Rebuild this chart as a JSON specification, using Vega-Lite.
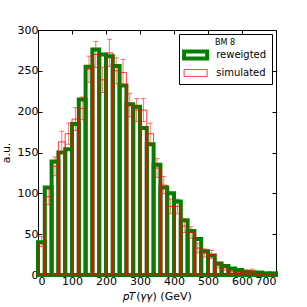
{
  "$schema": "https://vega.github.io/schema/vega-lite/v6.json",
  "width": 238,
  "height": 245,
  "autosize": "none",
  "padding": {"left": 38, "top": 30, "right": 31, "bottom": 32},
  "background": "white",
  "datasets": {
    "h": [
      {"s":"reweigted","a":0,"b":20,"v":40},
      {"s":"reweigted","a":20,"b":40,"v":107},
      {"s":"reweigted","a":40,"b":60,"v":139},
      {"s":"reweigted","a":60,"b":80,"v":150},
      {"s":"reweigted","a":80,"b":100,"v":154},
      {"s":"reweigted","a":100,"b":120,"v":185},
      {"s":"reweigted","a":120,"b":140,"v":215},
      {"s":"reweigted","a":140,"b":160,"v":255},
      {"s":"reweigted","a":160,"b":180,"v":276},
      {"s":"reweigted","a":180,"b":200,"v":270},
      {"s":"reweigted","a":200,"b":220,"v":268},
      {"s":"reweigted","a":220,"b":240,"v":256},
      {"s":"reweigted","a":240,"b":260,"v":232},
      {"s":"reweigted","a":260,"b":280,"v":209},
      {"s":"reweigted","a":280,"b":300,"v":206},
      {"s":"reweigted","a":300,"b":320,"v":180},
      {"s":"reweigted","a":320,"b":340,"v":160},
      {"s":"reweigted","a":340,"b":360,"v":135},
      {"s":"reweigted","a":360,"b":380,"v":107},
      {"s":"reweigted","a":380,"b":400,"v":100},
      {"s":"reweigted","a":400,"b":420,"v":90},
      {"s":"reweigted","a":420,"b":440,"v":67},
      {"s":"reweigted","a":440,"b":460,"v":54},
      {"s":"reweigted","a":460,"b":480,"v":44},
      {"s":"reweigted","a":480,"b":500,"v":29},
      {"s":"reweigted","a":500,"b":520,"v":24},
      {"s":"reweigted","a":520,"b":540,"v":14},
      {"s":"reweigted","a":540,"b":560,"v":11},
      {"s":"reweigted","a":560,"b":580,"v":8},
      {"s":"reweigted","a":580,"b":600,"v":6},
      {"s":"reweigted","a":600,"b":620,"v":4},
      {"s":"reweigted","a":620,"b":640,"v":3},
      {"s":"reweigted","a":640,"b":660,"v":3},
      {"s":"reweigted","a":660,"b":680,"v":2},
      {"s":"reweigted","a":680,"b":700,"v":2},
      {"s":"simulated","a":0,"b":20,"v":41,"m":10,"lo":35,"hi":47},
      {"s":"simulated","a":20,"b":40,"v":96,"m":30,"lo":86,"hi":106},
      {"s":"simulated","a":40,"b":60,"v":133,"m":50,"lo":121.5,"hi":144.5},
      {"s":"simulated","a":60,"b":80,"v":163,"m":70,"lo":150,"hi":176},
      {"s":"simulated","a":80,"b":100,"v":173,"m":90,"lo":160,"hi":186},
      {"s":"simulated","a":100,"b":120,"v":191,"m":110,"lo":177,"hi":205},
      {"s":"simulated","a":120,"b":140,"v":204,"m":130,"lo":190,"hi":218},
      {"s":"simulated","a":140,"b":160,"v":252,"m":150,"lo":236,"hi":268},
      {"s":"simulated","a":160,"b":180,"v":270,"m":170,"lo":254,"hi":286},
      {"s":"simulated","a":180,"b":200,"v":239,"m":190,"lo":223.5,"hi":254.5},
      {"s":"simulated","a":200,"b":220,"v":272,"m":210,"lo":255.5,"hi":288.5},
      {"s":"simulated","a":220,"b":240,"v":250,"m":230,"lo":234,"hi":266},
      {"s":"simulated","a":240,"b":260,"v":248,"m":250,"lo":232,"hi":264},
      {"s":"simulated","a":260,"b":280,"v":208,"m":270,"lo":193.5,"hi":222.5},
      {"s":"simulated","a":280,"b":300,"v":202,"m":290,"lo":188,"hi":216},
      {"s":"simulated","a":300,"b":320,"v":202,"m":310,"lo":188,"hi":216},
      {"s":"simulated","a":320,"b":340,"v":173,"m":330,"lo":160,"hi":186},
      {"s":"simulated","a":340,"b":360,"v":131,"m":350,"lo":119.5,"hi":142.5},
      {"s":"simulated","a":360,"b":380,"v":110,"m":370,"lo":99.5,"hi":120.5},
      {"s":"simulated","a":380,"b":400,"v":84,"m":390,"lo":75,"hi":93},
      {"s":"simulated","a":400,"b":420,"v":84,"m":410,"lo":75,"hi":93},
      {"s":"simulated","a":420,"b":440,"v":60,"m":430,"lo":52,"hi":68},
      {"s":"simulated","a":440,"b":460,"v":52,"m":450,"lo":45,"hi":59},
      {"s":"simulated","a":460,"b":480,"v":33,"m":470,"lo":27,"hi":39},
      {"s":"simulated","a":480,"b":500,"v":27,"m":490,"lo":22,"hi":32},
      {"s":"simulated","a":500,"b":520,"v":25,"m":510,"lo":20,"hi":30},
      {"s":"simulated","a":520,"b":540,"v":12,"m":530,"lo":8.5,"hi":15.5},
      {"s":"simulated","a":540,"b":560,"v":9,"m":550,"lo":6,"hi":12},
      {"s":"simulated","a":560,"b":580,"v":4,"m":570,"lo":2,"hi":6},
      {"s":"simulated","a":580,"b":600,"v":3,"m":590,"lo":1.3,"hi":4.7},
      {"s":"simulated","a":600,"b":620,"v":4,"m":610,"lo":2,"hi":6},
      {"s":"simulated","a":620,"b":640,"v":5,"m":630,"lo":2.8,"hi":7.2},
      {"s":"simulated","a":640,"b":660,"v":1,"m":650,"lo":0,"hi":2},
      {"s":"simulated","a":660,"b":680,"v":0,"m":670,"lo":0,"hi":0},
      {"s":"simulated","a":680,"b":700,"v":0,"m":690,"lo":0,"hi":0}
    ]
  },
  "data": {"name": "h"},
  "layer": [
    {
      "mark": {"type": "rect", "fill": "transparent"},
      "encoding": {
        "x": {"field": "a", "type": "quantitative", "title": "𝑝𝑇(𝛾𝛾) (GeV)",
              "scale": {"domain": [0, 700], "nice": false, "zero": false},
              "axis": {"orient": "bottom", "values": [0,100,200,300,400,500,600,700]}},
        "x2": {"field": "b"},
        "y": {"field": "v", "type": "quantitative", "title": "a.u.",
              "scale": {"domain": [0, 300], "nice": false},
              "axis": {"orient": "left", "values": [0,50,100,150,200,250,300]}},
        "y2": {"datum": 0},
        "stroke": {"field": "s", "type": "ordinal",
                   "scale": {"domain": ["reweigted", "simulated"], "range": ["#008000", "rgba(255,0,0,0.75)"]},
                   "legend": {"title": "BM 8"}},
        "strokeWidth": {"field": "s", "type": "ordinal",
                        "scale": {"domain": ["reweigted", "simulated"], "range": [4, 1]},
                        "legend": {"title": "BM 8"}}
      }
    },
    {
      "transform": [{"filter": "datum.s == 'simulated' && datum.hi > 0"}],
      "mark": {"type": "errorbar", "color": "red", "opacity": 0.55, "thickness": 1, "ticks": {"size": 5}},
      "encoding": {
        "x": {"field": "m", "type": "quantitative", "title": "𝑝𝑇(𝛾𝛾) (GeV)", "axis": null},
        "y": {"field": "lo", "type": "quantitative", "title": "a.u.", "axis": null},
        "y2": {"field": "hi"}
      }
    },
    {
      "mark": {"type": "rect", "opacity": 0},
      "encoding": {
        "x": {"field": "a", "type": "quantitative", "title": null,
              "axis": {"orient": "top", "labels": false, "title": null, "values": [0,100,200,300,400,500,600,700]}},
        "x2": {"field": "b"},
        "y": {"field": "v", "type": "quantitative", "title": null,
              "axis": {"orient": "right", "labels": false, "title": null, "values": [0,50,100,150,200,250,300]}},
        "y2": {"datum": 0}
      }
    }
  ],
  "resolve": {"axis": {"x": "independent", "y": "independent"}},
  "config": {
    "view": {"stroke": "black", "strokeWidth": 1},
    "axis": {
      "grid": false,
      "domainColor": "black",
      "tickColor": "black",
      "tickSize": -4,
      "labelPadding": 4,
      "labelFont": "DejaVu Sans",
      "labelFontSize": 11,
      "labelColor": "black",
      "titleFont": "DejaVu Sans",
      "titleFontSize": 11,
      "titleFontWeight": "normal",
      "titleColor": "black"
    },
    "axisY": {"titlePadding": 6},
    "axisX": {"titlePadding": 4},
    "legend": {
      "orient": "top-right",
      "offset": 4,
      "strokeColor": "black",
      "fillColor": "white",
      "padding": 5,
      "titleAnchor": "middle",
      "titleFont": "DejaVu Sans",
      "titleFontSize": 8,
      "titleFontWeight": "normal",
      "titleColor": "black",
      "titlePadding": 2,
      "labelFont": "DejaVu Sans",
      "labelFontSize": 10,
      "labelColor": "black",
      "symbolType": "M-3,-0.9H3V0.9H-3Z",
      "symbolSize": 59,
      "symbolOffset": 5.6,
      "symbolFillColor": "transparent",
      "labelOffset": 14.6,
      "rowPadding": 0
    }
  }
}
